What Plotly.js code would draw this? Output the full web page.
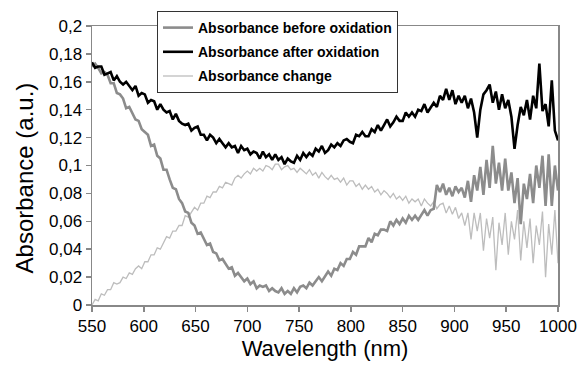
<!DOCTYPE html>
<html>
<head>
<meta charset="utf-8">
<script src="https://cdn.plot.ly/plotly-3.0.1.min.js"></script>
<style>html,body{margin:0;padding:0;background:#fff;}#chart{width:578px;height:365px;}</style>
</head>
<body>
<div id="chart"></div>
<script>
// Wavelength grid (nm)
var wavelength = [550,553,556,559,562,565,568,571,574,577,580,583,586,589,592,595,598,601,604,607,610,613,616,619,622,625,628,631,634,637,640,643,646,649,652,655,658,661,664,667,670,673,676,679,682,685,688,691,694,697,700,703,706,709,712,715,718,721,724,727,730,733,736,739,742,745,748,751,754,757,760,763,766,769,772,775,778,781,784,787,790,793,796,799,802,805,808,811,814,817,820,823,826,829,832,835,838,841,844,847,850,853,856,859,862,865,868,871,874,877,880,883,886,889,892,895,898,901,904,907,910,913,916,919,922,925,928,931,934,937,940,943,946,949,952,955,958,961,964,967,970,973,976,979,982,985,988,991,994,997,1000];

var absBefore = [
.171,.173,.170,.166,.167,.165,.159,.159,.152,.151,
.148,.141,.142,.137,.133,.132,.126,.124,.122,.114,
.115,.107,.105,.097,.097,.090,.084,.083,.076,.073,
.067,.066,.059,.057,.051,.052,.047,.043,.044,.038,
.037,.032,.033,.029,.026,.027,.021,.023,.020,.017,
.019,.015,.017,.012,.014,.013,.014,.010,.012,.010,
.009,.012,.008,.010,.008,.012,.009,.013,.014,.012,
.016,.014,.017,.020,.017,.021,.024,.021,.026,.025,
.030,.028,.033,.033,.038,.036,.042,.042,.042,.048,
.045,.051,.050,.054,.054,.053,.060,.057,.061,.058,
.062,.059,.064,.061,.064,.061,.065,.068,.064,.068,
.069,.086,.081,.087,.079,.084,.078,.085,.081,.084,
.077,.089,.074,.093,.082,.099,.079,.104,.084,.114,
.087,.102,.082,.105,.082,.095,.073,.091,.058,.087,
.076,.094,.073,.100,.084,.107,.071,.108,.071,.100,
.082];

var absAfter = [
.174,.170,.171,.171,.165,.166,.167,.161,.164,.160,
.158,.160,.157,.154,.157,.150,.152,.151,.145,.147,
.146,.140,.144,.140,.138,.139,.133,.137,.132,.130,
.129,.130,.125,.127,.128,.122,.122,.118,.122,.120,
.116,.119,.116,.113,.116,.113,.114,.109,.114,.111,
.112,.108,.110,.109,.105,.110,.106,.108,.104,.108,
.104,.106,.101,.105,.103,.102,.107,.104,.109,.106,
.109,.107,.112,.110,.114,.109,.111,.115,.113,.116,
.114,.118,.119,.117,.116,.122,.121,.124,.121,.121,
.126,.124,.129,.125,.129,.133,.128,.131,.135,.132,
.132,.138,.135,.138,.135,.140,.139,.144,.138,.142,
.145,.142,.150,.147,.155,.147,.154,.144,.150,.145,
.150,.141,.148,.138,.120,.140,.151,.154,.158,.145,
.153,.140,.151,.141,.147,.135,.112,.129,.142,.136,
.147,.133,.150,.141,.173,.139,.144,.128,.161,.125,
.118];

var absChange = [
.000,.004,.003,.008,.007,.011,.011,.016,.015,.016,
.020,.019,.023,.022,.026,.028,.026,.031,.031,.036,
.036,.041,.040,.045,.049,.048,.053,.053,.057,.057,
.064,.063,.067,.070,.068,.073,.073,.078,.077,.081,
.081,.085,.084,.088,.087,.086,.091,.093,.091,.094,
.096,.094,.098,.096,.098,.096,.100,.099,.097,.101,
.101,.097,.099,.100,.097,.098,.095,.098,.096,.094,
.097,.093,.095,.091,.095,.092,.090,.093,.090,.091,
.088,.091,.086,.089,.089,.085,.087,.083,.086,.083,
.085,.081,.083,.079,.082,.080,.077,.080,.076,.078,
.075,.078,.073,.076,.074,.076,.071,.076,.073,.071,
.074,.069,.072,.073,.066,.071,.065,.070,.062,.066,
.057,.066,.047,.066,.053,.066,.039,.062,.048,.063,
.025,.059,.043,.066,.036,.060,.047,.068,.032,.060,
.041,.062,.030,.057,.043,.067,.020,.058,.036,.068,
.030];

var seriesNames = ['Absorbance before oxidation','Absorbance after oxidation','Absorbance change'];
var xTicks = [550,600,650,700,750,800,850,900,950,1000];
var yTicks = [0,0.02,0.04,0.06,0.08,0.1,0.12,0.14,0.16,0.18,0.2];

var trBefore = {x: wavelength, y: absBefore, name: seriesNames[0], type:'scatter', mode:'lines',
   line:{color:'#8c8c8c', width:2.6}, legendgroup:'a', legendrank: 1};
var trAfter = {x: wavelength, y: absAfter, name: seriesNames[1], type:'scatter', mode:'lines',
   line:{color:'#000000', width:2.6}, legendgroup:'b', legendrank: 2};
var trChange = {x: wavelength, y: absChange, name: seriesNames[2], type:'scatter', mode:'lines',
   line:{color:'#bdbdbd', width:1.3}, legendgroup:'c', legendrank: 3};
var traces = [trChange, trBefore, trAfter];

var W = 578, H = 365, mL = 92, mR = 20, mT = 25, mB = 60;
var pw = W - mL - mR, ph = H - mT - mB;
function px2x(p){ return (p - mL) / pw; }
function py2y(p){ return (H - mB - p) / ph; }

var layout = {
  width: W, height: H,
  margin: {l: mL, r: mR, t: mT, b: mB},
  paper_bgcolor: '#fff', plot_bgcolor: '#fff',
  separators: ', ',
  font: {family: 'Liberation Sans, Arial, sans-serif', color: '#000'},
  showlegend: true,
  legend: {
    x: px2x(157), y: py2y(11), xanchor: 'left', yanchor: 'top',
    bgcolor: '#fff', bordercolor: '#333', borderwidth: 1,
    font: {size: 14, family: 'Liberation Sans, Arial, sans-serif', weight: 'bold'},
    traceorder: 'grouped', tracegroupgap: 3
  },
  xaxis: {
    range: [550, 1000], tickvals: xTicks, ticktext: xTicks.map(String),
    ticks: 'outside', ticklen: 5, tickcolor: '#888', tickwidth: 1.5,
    showline: true, linecolor: '#888', linewidth: 1.5, mirror: true,
    showgrid: false, zeroline: false,
    tickfont: {size: 17},
    title: {text: 'Wavelength (nm)', font: {size: 22}, standoff: 4}
  },
  yaxis: {
    range: [0, 0.2], tickvals: yTicks,
    ticks: 'outside', ticklen: 5, tickcolor: '#888', tickwidth: 1.5,
    showline: true, linecolor: '#888', linewidth: 1.5, mirror: true,
    showgrid: false, zeroline: false,
    tickfont: {size: 17}
  },
  annotations: [
    {text: 'Absorbance (a.u.)', xref: 'paper', yref: 'paper',
     x: px2x(24), y: py2y(178), xanchor: 'center', yanchor: 'middle',
     textangle: -90, showarrow: false, font: {size: 24}}
  ],
  shapes: [
    {type:'rect', xref:'paper', yref:'paper', layer:'above',
     x0: px2x(160), x1: px2x(395), y0: py2y(91), y1: py2y(14),
     fillcolor:'#666', line:{width:0}}
  ]
};

Plotly.newPlot('chart', traces, layout, {displayModeBar: false, staticPlot: true});
</script>
</body>
</html>
